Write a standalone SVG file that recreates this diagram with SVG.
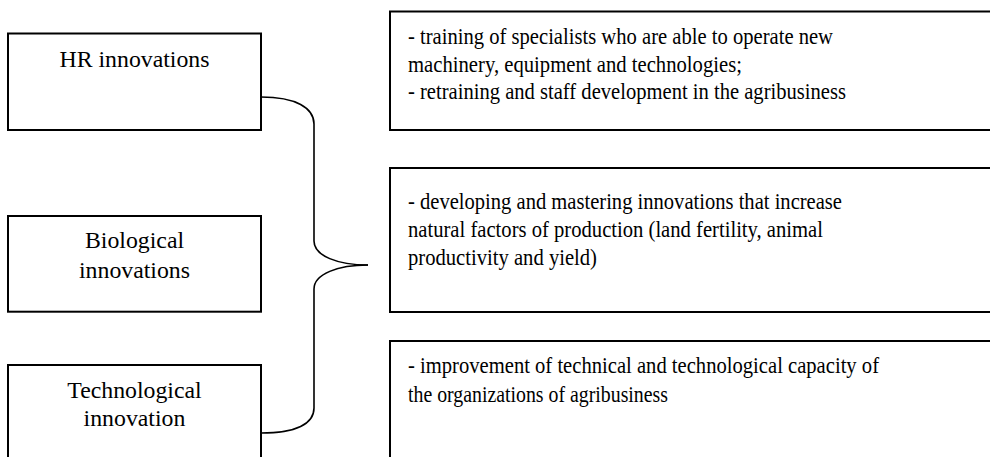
<svg xmlns="http://www.w3.org/2000/svg" width="990" height="457" viewBox="0 0 990 457">
  <style>
    .box { fill: #ffffff; stroke: #000000; stroke-width: 2; }
    .lbl { font-family: "Liberation Serif", "Times New Roman", serif; font-size: 23.8px; fill: #000000; text-anchor: middle; }
    .desc { font-family: "Liberation Serif", "Times New Roman", serif; font-size: 23.4px; fill: #000000; }
    .brace { fill: none; stroke: #000000; stroke-width: 1.6; }
  </style>
  <rect width="990" height="457" fill="#ffffff"/>

  <!-- innovation types -->
  <g id="hr-innovations">
    <rect class="box" x="8" y="33.5" width="253" height="96.5"/>
    <text class="lbl" x="134.5" y="66.5">HR innovations</text>
  </g>
  <g id="biological-innovations">
    <rect class="box" x="8" y="216" width="253" height="95.7"/>
    <text class="lbl" x="134.5" y="248">Biological</text>
    <text class="lbl" x="134.5" y="278">innovations</text>
  </g>
  <g id="technological-innovation">
    <rect class="box" x="8" y="365" width="253" height="110"/>
    <text class="lbl" x="134.5" y="397.5">Technological</text>
    <text class="lbl" x="134.5" y="426">innovation</text>
  </g>

  <!-- descriptions (narrowed type, each line fitted to its width) -->
  <g id="hr-description">
    <rect class="box" x="390" y="11.5" width="620" height="118.5"/>
    <text class="desc" x="408" y="44.3" textLength="425" lengthAdjust="spacingAndGlyphs">- training of specialists who are able to operate new</text>
    <text class="desc" x="408" y="71.7" textLength="334" lengthAdjust="spacingAndGlyphs">machinery, equipment and technologies;</text>
    <text class="desc" x="408" y="99.3" textLength="438" lengthAdjust="spacingAndGlyphs">- retraining and staff development in the agribusiness</text>
  </g>
  <g id="biological-description">
    <rect class="box" x="390" y="168" width="620" height="144"/>
    <text class="desc" x="408" y="209.3" textLength="434" lengthAdjust="spacingAndGlyphs">- developing and mastering innovations that increase</text>
    <text class="desc" x="408" y="237.3" textLength="415" lengthAdjust="spacingAndGlyphs">natural factors of production (land fertility, animal</text>
    <text class="desc" x="408" y="265" textLength="189" lengthAdjust="spacingAndGlyphs">productivity and yield)</text>
  </g>
  <g id="technological-description">
    <rect class="box" x="390" y="341" width="620" height="140"/>
    <text class="desc" x="408" y="373.3" textLength="471" lengthAdjust="spacingAndGlyphs">- improvement of technical and technological capacity of</text>
    <text class="desc" x="408" y="401.7" textLength="260" lengthAdjust="spacingAndGlyphs">the organizations of agribusiness</text>
  </g>

  <!-- curly brace joining the three types -->
  <g id="connectors">
    <path class="brace" d="M261,97 C296,97 314,108 314,124 L314,241 C314,256 338,265 368,265"/>
    <path class="brace" d="M368,265 C338,265 314,274 314,289 L314,408 C314,424 296,433 261,433"/>
  </g>
</svg>
